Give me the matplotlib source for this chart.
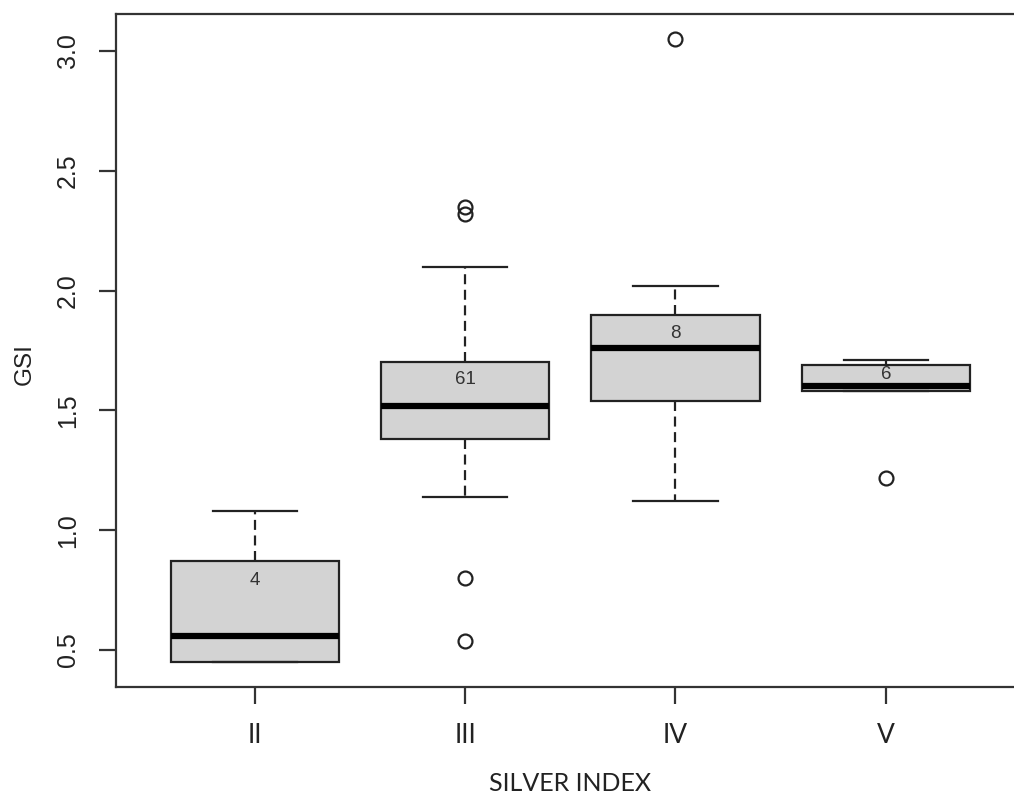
"""
Boxplot GSI por índice de Silver (estilo R base).
"""

import numpy as np
import matplotlib.pyplot as plt

# ------------------------- Datos -------------------------
categories = ["II", "III", "IV", "V"]
whisker_low = [0.45, 1.14, 1.12, 1.58]
q1 = [0.45, 1.38, 1.54, 1.58]
medians = [0.56, 1.52, 1.76, 1.60]
q3 = [0.87, 1.70, 1.90, 1.69]
whisker_high = [1.08, 2.10, 2.02, 1.71]
outliers = [[], [2.35, 2.32, 0.80, 0.54], [3.05], [1.22]]
counts = [4, 61, 8, 6]
means = [0.79, 1.63, 1.82, 1.65]

LINE = "#222222"
FILL = "#d3d3d3"


def main():
    fig = plt.figure(figsize=(10.14, 7.93), dpi=100)
    # el borde derecho queda fuera de la imagen (recortada)
    ax = fig.add_axes([116 / 1014, 106 / 793, 908.6 / 1014, 673 / 793])

    stats = []
    for i, cat in enumerate(categories):
        stats.append({
            "label": cat,
            "whislo": whisker_low[i],
            "q1": q1[i],
            "med": medians[i],
            "q3": q3[i],
            "whishi": whisker_high[i],
            "fliers": outliers[i],
        })

    pos = np.arange(1, len(categories) + 1)
    ax.bxp(
        stats, positions=pos, widths=0.8, patch_artist=True,
        boxprops=dict(facecolor=FILL, edgecolor=LINE, linewidth=1.6),
        medianprops=dict(color="black", linewidth=4.5, solid_capstyle="butt"),
        whiskerprops=dict(color=LINE, linewidth=1.6, linestyle=(0, (4.5, 2.5))),
        capprops=dict(color=LINE, linewidth=1.6),
        capwidths=0.4,
        flierprops=dict(marker="o", markerfacecolor="none", markeredgecolor=LINE,
                        markersize=10, markeredgewidth=1.6),
    )

    # número de observaciones dentro de cada caja
    for x, n, m in zip(pos, counts, means):
        ax.text(x, m, str(n), ha="center", va="center", fontsize=13.5,
                color="#333333", family="Liberation Sans")

    # límites tipo R (4% de margen)
    all_vals = whisker_low + whisker_high + [v for o in outliers for v in o]
    lo, hi = min(all_vals), max(all_vals)
    pad = 0.04 * (hi - lo)
    ax.set_ylim(lo - pad, hi + pad)
    xpad = 0.04 * len(categories)
    ax.set_xlim(0.5 - xpad, len(categories) + 0.5 + xpad)

    for s in ["left", "top", "bottom", "right"]:
        ax.spines[s].set_color("#333333")
        ax.spines[s].set_linewidth(1.6)

    ax.set_yticks([0.5, 1.0, 1.5, 2.0, 2.5, 3.0])
    ax.set_yticklabels(["0.5", "1.0", "1.5", "2.0", "2.5", "3.0"],
                       rotation=90, va="center", fontsize=18,
                       family="Liberation Sans", color="#222222")
    ax.set_xticks(pos)
    ax.set_xticklabels(categories, fontsize=19, family="Lato", color="#222222")
    ax.tick_params(axis="y", length=12, width=1.6, color="#333333", pad=14)
    ax.tick_params(axis="x", length=12, width=1.6, color="#333333", pad=14)

    ax.set_xlabel("SILVER INDEX", fontsize=18, family="Lato", color="#222222",
                  labelpad=17)
    ax.set_ylabel("GSI", fontsize=17.5, family="Liberation Sans", color="#222222",
                  va="center")
    ax.yaxis.set_label_coords(-91 / 908.6, 0.48)

    fig.savefig("out.png", dpi=100)
    plt.close(fig)


if __name__ == "__main__":
    main()
